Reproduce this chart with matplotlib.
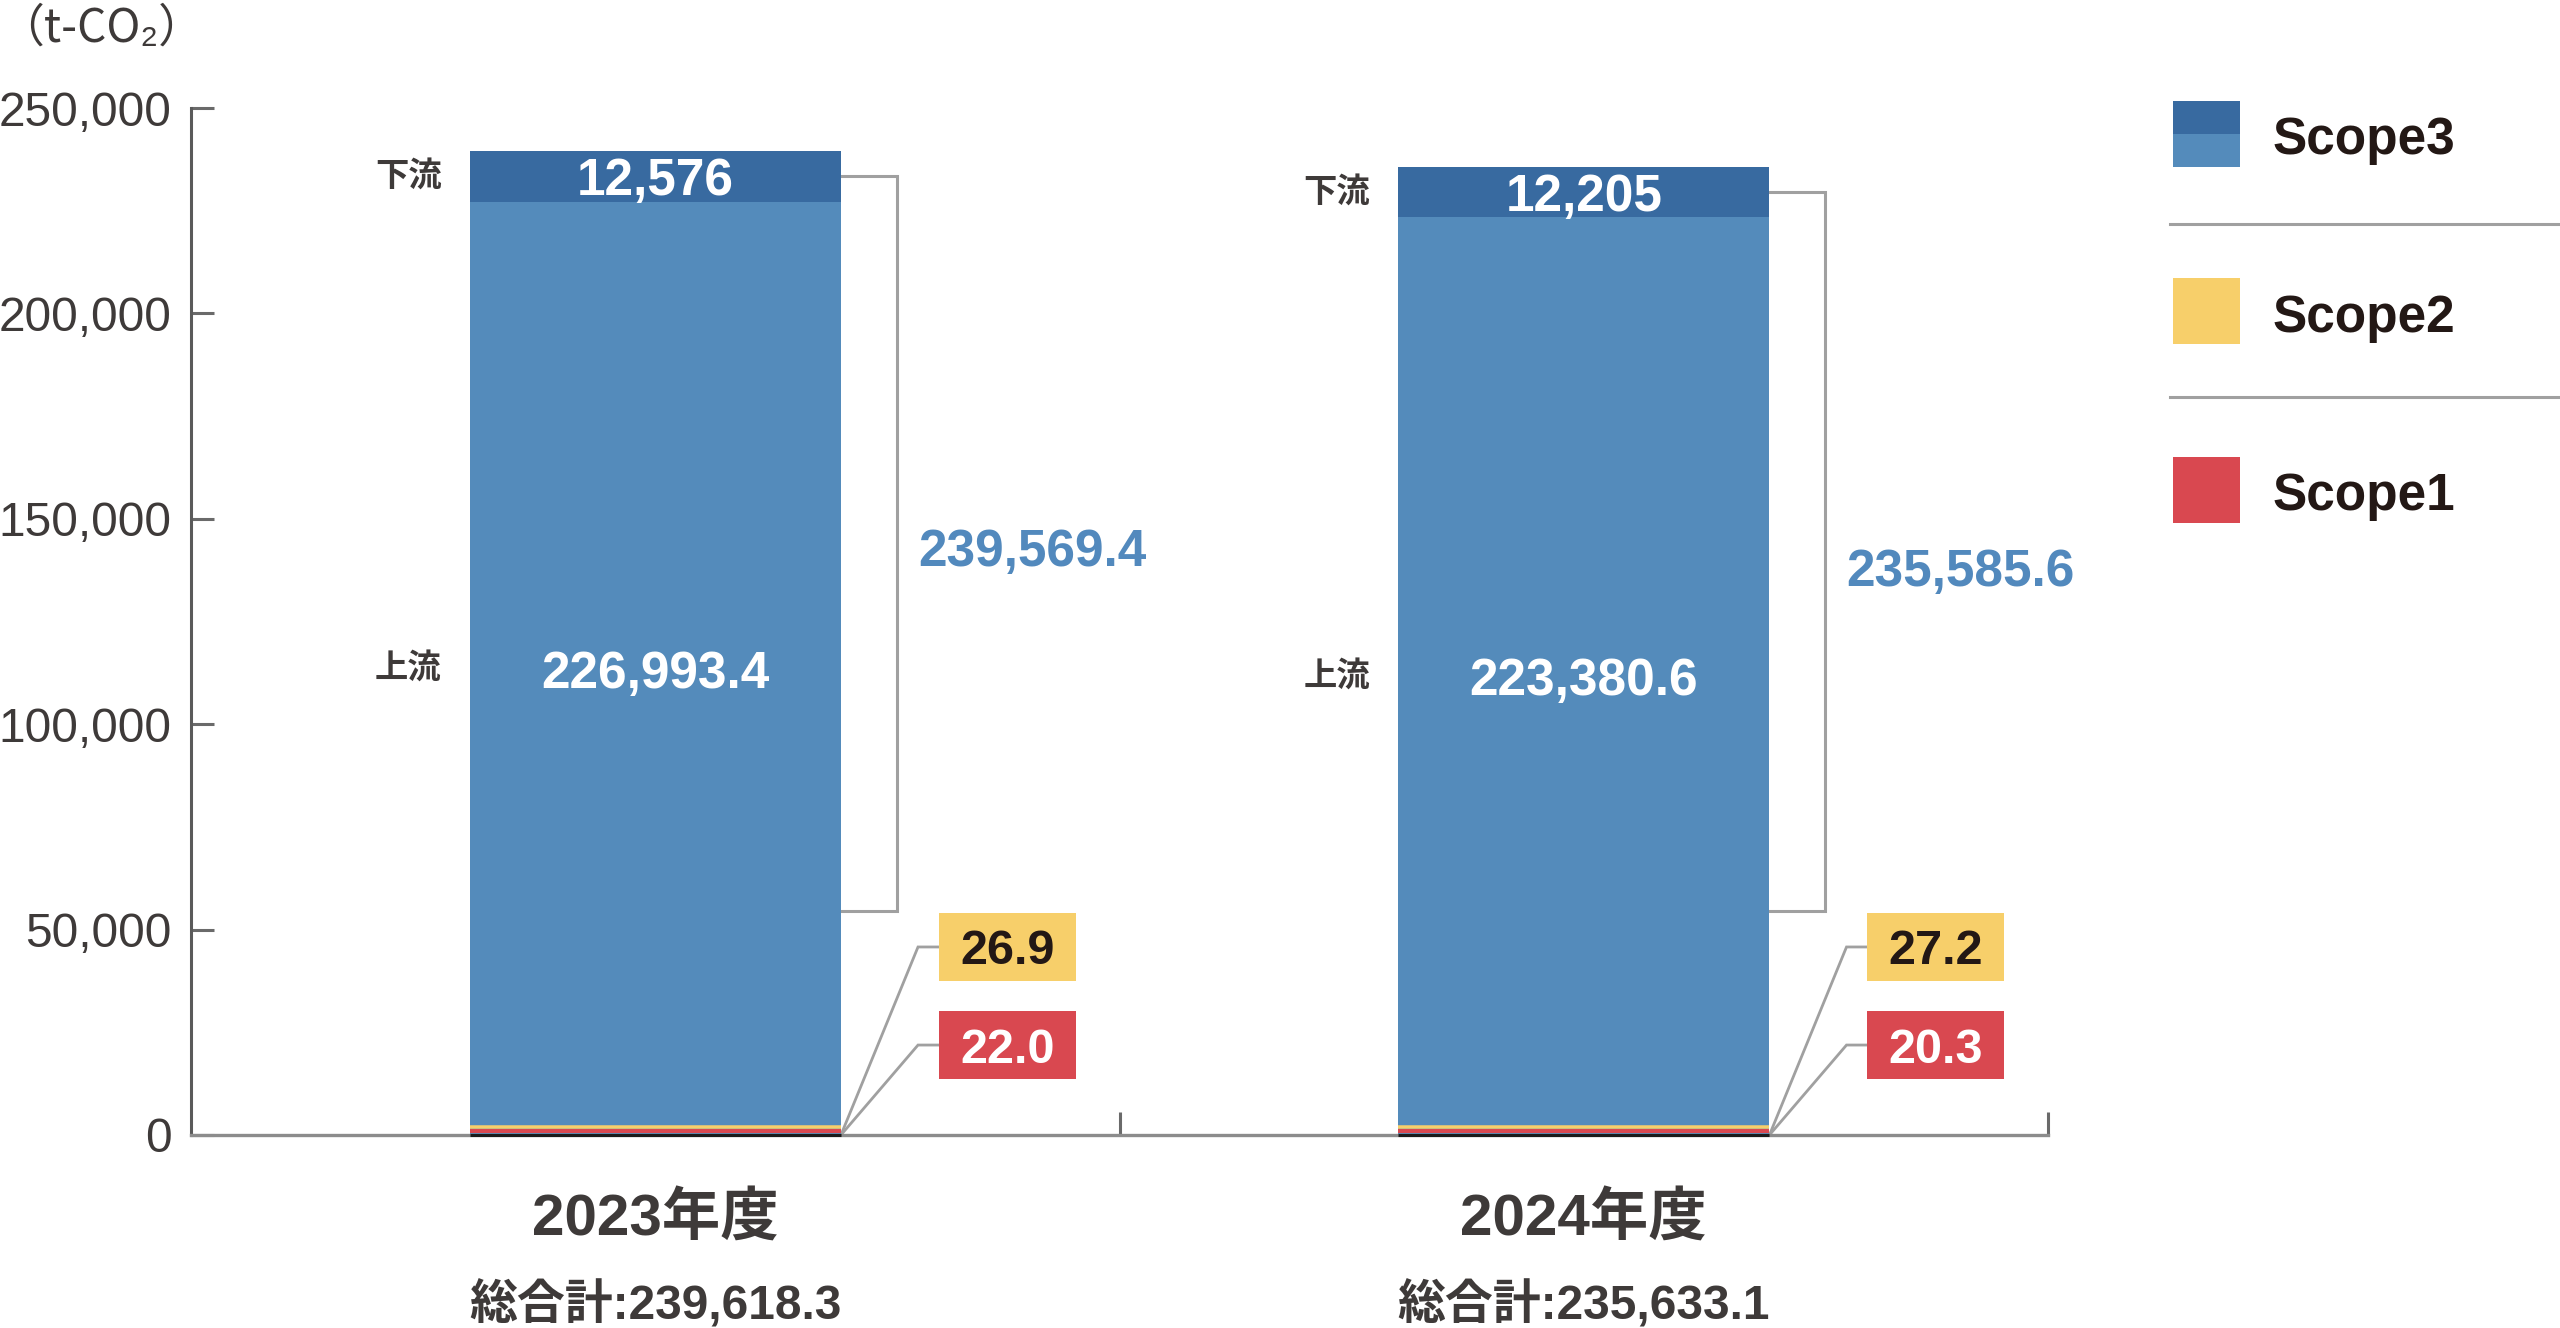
import matplotlib
matplotlib.use("Agg")
import matplotlib.pyplot as plt
from matplotlib.patches import Rectangle
from matplotlib.lines import Line2D
from matplotlib.transforms import offset_copy
import numpy as np

# ---------------- data ----------------
categories = ["2023年度", "2024年度"]
scope1 = [22.0, 20.3]
scope2 = [26.9, 27.2]
scope3_upstream = [226993.4, 223380.6]
scope3_downstream = [12576, 12205]
y_ticks = [0, 50000, 100000, 150000, 200000, 250000]
legend_labels = ["Scope3", "Scope2", "Scope1"]
unit_label = "（t-CO₂）"
total_prefix = "総合計:"
up_label = "上流"
down_label = "下流"

# ---------------- style ----------------
W, H = 2560, 1328
DARK_BLUE = "#386aa0"
LIGHT_BLUE = "#548bbb"
YELLOW = "#f7cf6a"
RED = "#d94850"
GRAY = "#a0a0a0"
TEXT = "#3e3a39"
DARKTEXT = "#231815"
LABEL_BLUE = "#5289bd"
LAT = ["Liberation Sans", "Noto Sans CJK JP", "DejaVu Sans"]
CJK = ["Noto Sans CJK JP", "Liberation Sans", "DejaVu Sans"]

plt.rcParams["font.family"] = LAT

fig = plt.figure(figsize=(W / 100, H / 100), dpi=100, facecolor="white")
ax = fig.add_axes([191 / W, 193 / H, (2048 - 191) / W, 1027 / H])
ax.set_facecolor("none")

x = np.arange(len(categories), dtype=float)
s1 = np.array(scope1)
s2 = np.array(scope2)
up = np.array(scope3_upstream)
down = np.array(scope3_downstream)
bw = 0.4

# bars
ax.bar(x, up, bw, bottom=s1 + s2, color=LIGHT_BLUE, zorder=2, linewidth=0)
ax.bar(x, down, bw, bottom=s1 + s2 + up, color=DARK_BLUE, zorder=2, linewidth=0)
tr1 = offset_copy(ax.transData, fig=fig, x=0, y=4, units="dots")
tr2 = offset_copy(ax.transData, fig=fig, x=0, y=7.75, units="dots")
ax.bar(x, s1, bw, bottom=0, color=RED, edgecolor=RED, linewidth=4 * 0.72,
       transform=tr1, zorder=3)
ax.bar(x, s2, bw, bottom=s1, color=YELLOW, edgecolor=YELLOW, linewidth=3.5 * 0.72,
       transform=tr2, zorder=3)
ax.hlines([0] * len(x), x - bw / 2, x + bw / 2, color="#1a1a1a", lw=2.2,
          zorder=4, clip_on=False)

# axes styling
ax.set_xlim(-0.5, 1.5)
ax.set_ylim(0, 250000)
for s in ["top", "right"]:
    ax.spines[s].set_visible(False)
ax.spines["left"].set_color("#5a5a5a")
ax.spines["left"].set_linewidth(2.2)
ax.spines["bottom"].set_color("#8c8c8c")
ax.spines["bottom"].set_linewidth(2.4)
ax.set_yticks(y_ticks)
ax.set_yticklabels([f"{v:,}" for v in y_ticks])
ax.tick_params(axis="y", direction="in", length=16.5, width=2.2, color="#6a6a6a",
               labelsize=34.5, labelcolor=TEXT, pad=14)
ax.set_xticks(x + 0.5)
ax.set_xticklabels([])
ax.tick_params(axis="x", direction="in", length=16.5, width=2.2, color="#6a6a6a")

# labels in bars
for i in range(len(x)):
    base = s1[i] + s2[i]
    up_c = base + up[i] / 2
    down_c = base + up[i] + down[i] / 2
    ax.text(x[i], down_c, f"{down[i]:,.0f}", ha="center", va="center_baseline",
            color="white", fontsize=37, fontweight="bold", zorder=5)
    ax.text(x[i], up_c, f"{up[i]:,.1f}", ha="center", va="center_baseline",
            color="white", fontsize=37, fontweight="bold", zorder=5)
    ax.annotate(down_label, xy=(x[i] - bw / 2, down_c), xytext=(-28, 0),
                textcoords="offset pixels", ha="right", va="center",
                fontsize=24, fontweight="bold", color=TEXT, family=CJK)
    ax.annotate(up_label, xy=(x[i] - bw / 2, up_c), xytext=(-28, 0),
                textcoords="offset pixels", ha="right", va="center",
                fontsize=24, fontweight="bold", color=TEXT, family=CJK)

# bracket for Scope3 totals
bracket_bottom = 54500
bracket_label_y = [143100, 138300]
for i in range(len(x)):
    top_mid = s1[i] + s2[i] + up[i] + down[i] / 2
    xr = x[i] + bw / 2
    ax.plot([xr, xr + 0.06, xr + 0.06, xr], [top_mid, top_mid, bracket_bottom, bracket_bottom],
            color=GRAY, lw=2.2, solid_joinstyle="miter", zorder=1)
    ax.text(x[i] + 0.406, bracket_label_y[i], f"{up[i] + down[i]:,.1f}",
            ha="center", va="center_baseline", color=LABEL_BLUE, fontsize=37,
            fontweight="bold")

# boxes for Scope2 / Scope1 with leader lines
box_h = 16550
box_specs = [(45770, YELLOW, DARKTEXT, s2), (21900, RED, "white", s1)]
for i in range(len(x)):
    xr = x[i] + bw / 2
    for yc, fc, tc, vals in box_specs:
        ax.plot([xr, x[i] + 0.283, x[i] + 0.3056], [0, yc, yc], color=GRAY, lw=2.0,
                solid_joinstyle="miter", zorder=1, clip_on=False)
        ax.add_patch(Rectangle((x[i] + 0.3056, yc - box_h / 2), 0.1475, box_h,
                               facecolor=fc, edgecolor="none", zorder=3))
        ax.text(x[i] + 0.3056 + 0.1475 / 2, yc, f"{vals[i]:.1f}", ha="center",
                va="center_baseline", color=tc, fontsize=35, fontweight="bold", zorder=4)

# category and total labels below axis
for i in range(len(x)):
    ax.annotate(categories[i], xy=(x[i], 0), xytext=(0, -85), textcoords="offset pixels",
                ha="center", va="center", fontsize=42, fontweight="bold", color=TEXT,
                annotation_clip=False)
    total = s1[i] + s2[i] + up[i] + down[i]
    ax.annotate(f"{total_prefix}{total:,.1f}", xy=(x[i], 0), xytext=(0, -170),
                textcoords="offset pixels", ha="center", va="center", fontsize=34.5,
                fontweight="bold", color=TEXT, annotation_clip=False)

# unit label
fig.text(-2 / W, 1 - 28 / H, unit_label, ha="left", va="center", fontsize=33,
         color=TEXT, family=CJK)

# legend (figure pixel coords)
def fx(px):
    return px / W

def fy(py):
    return 1 - py / H

lx0, lw_ = 2173, 67
fig.add_artist(Rectangle((fx(lx0), fy(134)), lw_ / W, 33 / H, transform=fig.transFigure,
                         facecolor=DARK_BLUE, edgecolor="none"))
fig.add_artist(Rectangle((fx(lx0), fy(167)), lw_ / W, 33 / H, transform=fig.transFigure,
                         facecolor=LIGHT_BLUE, edgecolor="none"))
fig.add_artist(Rectangle((fx(lx0), fy(344)), lw_ / W, 66 / H, transform=fig.transFigure,
                         facecolor=YELLOW, edgecolor="none"))
fig.add_artist(Rectangle((fx(lx0), fy(523)), lw_ / W, 66 / H, transform=fig.transFigure,
                         facecolor=RED, edgecolor="none"))
for ly in [224, 397]:
    fig.add_artist(Line2D([fx(2170), fx(2560)], [fy(ly), fy(ly)], transform=fig.transFigure,
                          color=GRAY, lw=2.2))
for lab, ly in zip(legend_labels, [135, 313, 491]):
    fig.text(fx(2273), fy(ly), lab, ha="left", va="center_baseline", fontsize=37,
             fontweight="bold", color=DARKTEXT)

fig.savefig("out.png", dpi=100, facecolor="white")
